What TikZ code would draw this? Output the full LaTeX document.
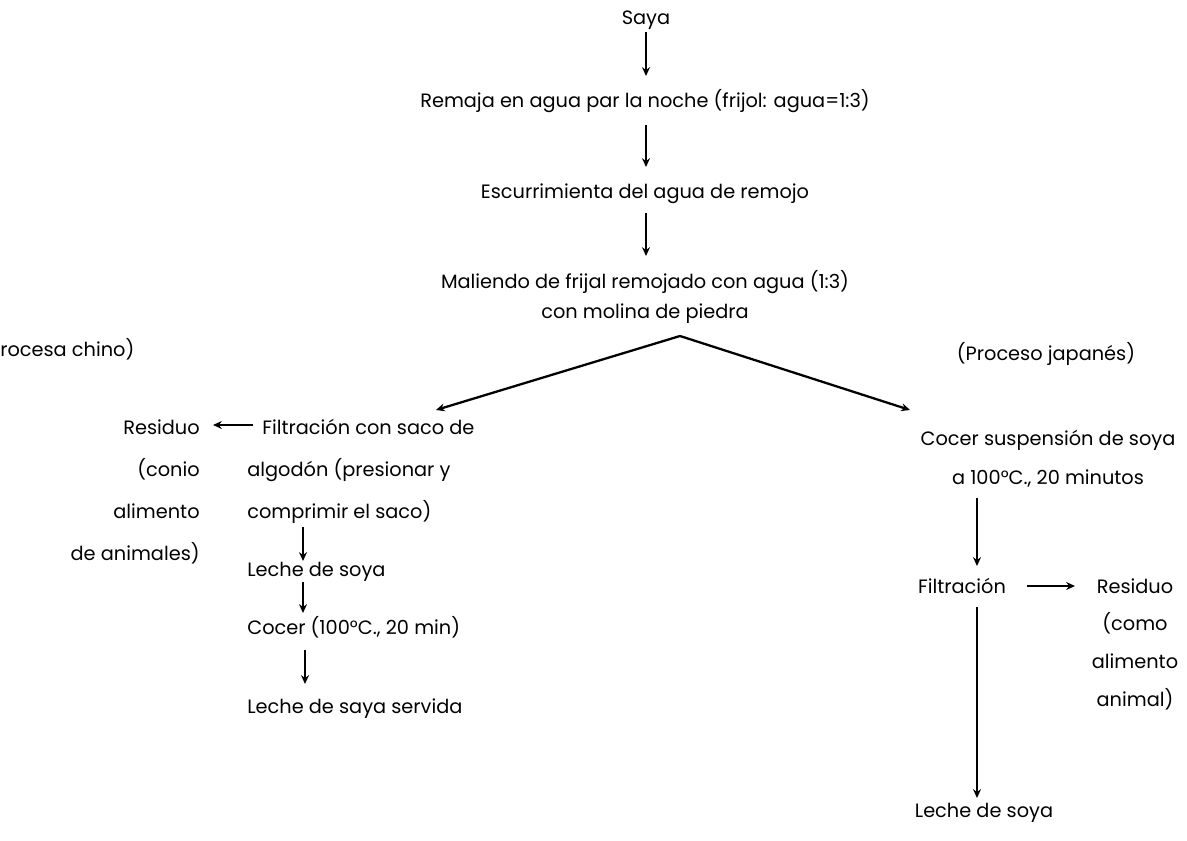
\documentclass[tikz,border=0pt]{standalone}
\usepackage{fontspec}
\setmainfont{Poppins}
\usetikzlibrary{arrows.meta}
\begin{document}
\begin{tikzpicture}[x=0.02cm,y=-0.02cm,
	flecha/.style={line width=1.3pt,-{Stealth[length=5pt,width=4.5pt]}},
	paso/.style={inner sep=0pt,font=\fontsize{11pt}{24pt}\selectfont}]
	\useasboundingbox (0,0) rectangle (1187,841);
	% tronco comun
	\node[paso] (saya) at (646,20) {Saya};
	\node[paso] (remojo) at (645,101) {Remaja en agua par la noche (frijol: agua=1:3)};
	\node[paso] (escurrir) at (645,194) {Escurrimienta del agua de remojo};
	\node[paso,align=center,anchor=north,font=\fontsize{11pt}{17pt}\selectfont] (molienda) at (645,270) {Maliendo de frijal remojado con agua (1:3)\\con molina de piedra};
	\coordinate (vertice) at (680,336);
	\coordinate (izq) at (436,410);
	\coordinate (der) at (910,410);
	\draw[flecha] (646,32) -- (646,76);
	\draw[flecha] (646,125) -- (646,167);
	\draw[flecha] (646,213) -- (646,256);
	\draw[flecha] (vertice) -- (izq);
	\draw[flecha] (vertice) -- (der);
	% proceso chino
	\node[paso,anchor=west] (chino) at (0,349) {rocesa chino)};
	\node[paso,align=left,anchor=north west] (filtro) at (247,419) {\hspace*{0.3cm}Filtración con saco de\\algodón (presionar y\\comprimir el saco)};
	\node[paso,align=right,anchor=north east] (residuo1) at (200,419) {Residuo\\(conio\\alimento\\de animales)};
	\node[paso,anchor=west] (leche1) at (247,572) {Leche de soya};
	\node[paso,anchor=west] (cocer1) at (247,627) {Cocer (100°C., 20 min)};
	\node[paso,anchor=west] (servida) at (247,709) {Leche de saya servida};
	\coordinate (r1) at (213,425);
	\draw[flecha] (253,425) -- (r1);
	\draw[flecha] (303,527) -- (303,561);
	\draw[flecha] (303,582) -- (303,613);
	\draw[flecha] (305,650) -- (305,684);
	% proceso japones
	\node[paso] (japon) at (1046,354) {(Proceso japanés)};
	\node[paso,align=center,anchor=north,font=\fontsize{11pt}{22pt}\selectfont] (cocer2) at (1048,430) {Cocer suspensión de soya\\a 100°C., 20 minutos};
	\node[paso] (filtro2) at (962,586) {Filtración};
	\node[paso,align=center,anchor=north,font=\fontsize{11pt}{21.5pt}\selectfont] (residuo2) at (1135,578) {Residuo\\(como\\alimento\\animal)};
	\node[paso] (leche2) at (984,813) {Leche de soya};
	\coordinate (f2a) at (1027,586);
	\coordinate (f2b) at (1075,586);
	\draw[flecha] (977,498) -- (977,566);
	\draw[flecha] (f2a) -- (f2b);
	\draw[flecha] (977,607) -- (977,798);
\end{tikzpicture}
\end{document}
